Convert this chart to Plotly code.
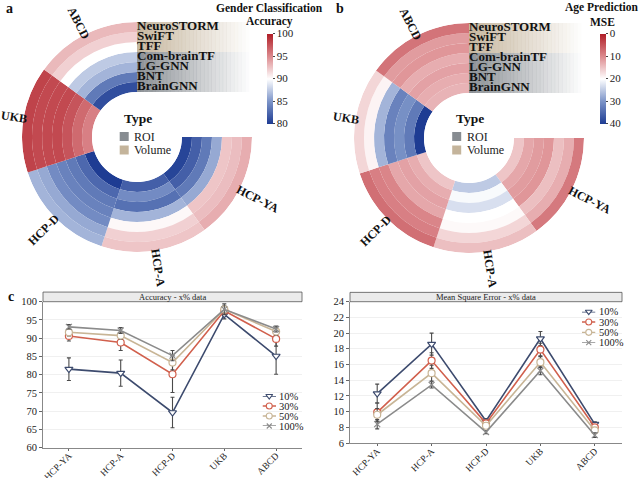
import math
import plotly.graph_objects as go

W, H = 640, 478
SERIF = "Liberation Serif, Times New Roman, serif"

# ---------------- data ----------------
datasets = ["HCP-YA", "HCP-A", "HCP-D", "UKB", "ABCD"]
# rings, inner -> outer
models = ["BrainGNN", "BNT", "LG-GNN", "Com-brainTF", "TFF", "SwiFT", "NeuroSTORM"]
model_type = ["ROI", "ROI", "ROI", "ROI", "Volume", "Volume", "Volume"]

# gender classification accuracy (%), per dataset
acc_braingnn = [80.5, 82.0, 78.5, 95.5, 81.0]
acc_bnt = [82.0, 84.5, 82.5, 96.5, 83.5]
acc_lggnn = [83.5, 83.0, 83.5, 97.5, 86.5]
acc_combraintf = [86.0, 86.5, 84.0, 98.0, 87.5]
acc_tff = [92.5, 90.3, 84.5, 98.0, 90.0]
acc_swift = [92.8, 92.0, 86.0, 98.0, 92.0]
acc_neurostorm = [93.5, 92.5, 86.5, 98.3, 93.0]

# age prediction MSE, per dataset
mse_braingnn = [15.0, 25.0, 15.0, 40.0, 13.5]
mse_bnt = [12.5, 20.5, 13.0, 33.0, 13.0]
mse_lggnn = [11.5, 23.0, 12.0, 30.5, 12.0]
mse_combraintf = [11.0, 20.0, 12.5, 32.0, 13.0]
mse_tff = [14.5, 19.5, 9.5, 27.0, 11.0]
mse_swift = [13.0, 16.5, 9.0, 19.0, 11.5]
mse_neurostorm = [8.4, 14.5, 7.5, 16.5, 8.0]

acc_rings = [acc_braingnn, acc_bnt, acc_lggnn, acc_combraintf, acc_tff, acc_swift, acc_neurostorm]
mse_rings = [mse_braingnn, mse_bnt, mse_lggnn, mse_combraintf, mse_tff, mse_swift, mse_neurostorm]

# panel c: NeuroSTORM with x% of data
fractions = ["10%", "30%", "50%", "100%"]
acc_10 = [81.5, 80.4, 69.6, 96.5, 85.1]
acc_30 = [90.6, 88.8, 80.1, 97.5, 89.8]
acc_50 = [91.6, 90.7, 83.3, 97.9, 91.8]
acc_100 = [93.1, 92.1, 85.2, 97.9, 92.5]
acc_err_10 = [3.1, 3.6, 4.2, 1.2, 5.0]
acc_err_30 = [1.4, 2.2, 5.0, 1.0, 2.0]
acc_err_50 = [1.0, 1.0, 2.0, 1.0, 1.0]
acc_err_100 = [0.6, 0.8, 1.4, 1.5, 0.8]

mse_10 = [12.3, 18.6, 8.8, 19.3, 8.4]
mse_30 = [9.9, 16.5, 8.5, 17.9, 8.0]
mse_50 = [9.6, 14.9, 8.2, 16.3, 7.6]
mse_100 = [8.4, 13.4, 7.4, 15.2, 7.0]
mse_err_10 = [1.2, 1.4, 0.3, 0.9, 0.3]
mse_err_30 = [1.2, 1.0, 0.3, 0.8, 0.3]
mse_err_50 = [0.8, 1.0, 0.3, 0.7, 0.3]
mse_err_100 = [0.6, 0.4, 0.2, 0.5, 0.3]

# ---------------- style ----------------
series_color = ["#3D4B6E", "#D1604D", "#C8B596", "#8B8B8B"]
series_symbol = ["triangle-down", "circle", "circle", "x-thin-open"]
type_color = {"ROI": "#878C91", "Volume": "#C4B49B"}
scale = [[0, "#1E3C93"], [0.25, "#7C94C8"], [0.5, "#FFFFFF"], [0.75, "#DC8A8E"], [1, "#B01E27"]]


def px(x, y):
    return x / W, 1 - y / H


fig = go.Figure()
annotations = []
shapes = []

# ---------------- circular panels a / b ----------------
RIN, ROUT = 45, 115
span = 270 / len(datasets)
thetas = [span * i + span / 2 for i in range(len(datasets))]

panels = [
    dict(sub="polar", cx=137, cy=137, rings=acc_rings, sign=1, cmin=80, cmax=100,
         ticks=[80, 85, 90, 95, 100], cbx=267, title=["Gender Classification", "Accuracy"], tx=269,
         legend_ax=("x5", "y5"), letter="a", lx=4),
    dict(sub="polar2", cx=469, cy=138, rings=mse_rings, sign=-1, cmin=-40, cmax=0,
         ticks=[0, 10, 20, 30, 40], cbx=600, title=["Age Prediction", "MSE"], tx=602,
         legend_ax=("x6", "y6"), letter="b", lx=334),
]

for p in panels:
    for i, vals in enumerate(p["rings"]):
        cb = None
        if i == 0:
            cbx, cby = px(p["cbx"], 78.5)
            cb = dict(x=cbx, xanchor="left", xpad=0, y=cby, yanchor="middle", ypad=0,
                      len=90, lenmode="pixels", thickness=6, outlinewidth=0,
                      tickvals=[p["sign"] * t for t in p["ticks"]], ticktext=[str(t) for t in p["ticks"]],
                      ticks="outside", ticklen=2, tickcolor="#444",
                      tickfont=dict(family=SERIF, size=11, color="#222"))
        fig.add_trace(go.Barpolar(
            r=[1] * len(datasets), theta=thetas, width=[span] * len(datasets),
            marker=dict(color=[p["sign"] * v for v in vals], colorscale=scale,
                        cmin=p["cmin"], cmax=p["cmax"], line=dict(width=0),
                        showscale=(i == 0), colorbar=cb),
            subplot=p["sub"], showlegend=False, hoverinfo="skip"))

    # model names along the gap edge
    fig.add_trace(go.Scatterpolar(
        r=[i + 0.5 for i in range(len(models))], theta=[270] * len(models), mode="text",
        text=["<b>%s</b>" % m for m in models], textposition="middle right",
        textfont=dict(family=SERIF, size=13, color="#111"),
        subplot=p["sub"], showlegend=False, hoverinfo="skip"))

    # fading type backgrounds behind the names
    unit = (ROUT - RIN) / len(models)
    nstrip, bgw = 30, 112
    for i, t in enumerate(model_type):
        y_top = p["cy"] - (RIN + unit * (i + 1))
        y_bot = p["cy"] - (RIN + unit * i)
        c = type_color[t]
        rgb = tuple(int(c[k:k + 2], 16) for k in (1, 3, 5))
        for k in range(nstrip):
            a = 0.95 * (1 - k / nstrip)
            x0, y0 = px(p["cx"] + bgw * k / nstrip, y_bot)
            x1, y1 = px(p["cx"] + bgw * (k + 1) / nstrip + 0.3, y_top)
            shapes.append(dict(type="rect", xref="paper", yref="paper", x0=x0, x1=x1, y0=y0, y1=y1,
                               fillcolor="rgba(%d,%d,%d,%.3f)" % (rgb + (a,)), line=dict(width=0),
                               layer="below"))

    # dataset labels, rotated along the radius, starting just outside the rings
    for d, th in zip(datasets, thetas):
        R = ROUT - 1 + 0.5 * len(d) * 7.2
        x, y = px(p["cx"] + R * math.cos(math.radians(th)), p["cy"] + R * math.sin(math.radians(th)))
        ang = th % 180
        if ang > 90:
            ang -= 180
        annotations.append(dict(x=x, y=y, xref="paper", yref="paper", text="<b>%s</b>" % d,
                                textangle=ang, showarrow=False, xanchor="center", yanchor="middle",
                                font=dict(family=SERIF, size=12, color="#111")))

    # colorbar title
    for j, line in enumerate(p["title"]):
        x, y = px(p["tx"], 7.5 + 14.3 * j)
        annotations.append(dict(x=x, y=y, xref="paper", yref="paper", text="<b>%s</b>" % line,
                                showarrow=False, xanchor="center", yanchor="middle",
                                font=dict(family=SERIF, size=11.5, color="#111")))

    # Type legend in the hole
    xa, ya = p["legend_ax"]
    types = ["ROI", "Volume"]
    fig.add_trace(go.Scatter(x=[0] * 2, y=list(range(2)), mode="markers",
                             marker=dict(symbol="square", size=9, color=[type_color[t] for t in types]),
                             xaxis=xa, yaxis=ya, showlegend=False, hoverinfo="skip", cliponaxis=False))
    for j, t in enumerate(types):
        annotations.append(dict(x=0, y=j, xref=xa, yref=ya, text=t, showarrow=False,
                                xanchor="left", yanchor="middle", xshift=8,
                                font=dict(family=SERIF, size=12, color="#222")))
    x, y = px(p["cx"] + 1, 118)
    annotations.append(dict(x=x, y=y, xref="paper", yref="paper", text="<b>Type</b>", showarrow=False,
                            xanchor="center", yanchor="middle",
                            font=dict(family=SERIF, size=13.5, color="#111")))

    x, y = px(p["lx"], 8)
    annotations.append(dict(x=x, y=y, xref="paper", yref="paper", text="<b>%s</b>" % p["letter"],
                            showarrow=False, xanchor="left", yanchor="middle",
                            font=dict(family=SERIF, size=14, color="#111")))

# ---------------- panel c ----------------
acc_series = [(acc_10, acc_err_10), (acc_30, acc_err_30), (acc_50, acc_err_50), (acc_100, acc_err_100)]
mse_series = [(mse_10, mse_err_10), (mse_30, mse_err_30), (mse_50, mse_err_50), (mse_100, mse_err_100)]

for (xa, ya, series, lax, lay) in [("x", "y", acc_series, "x3", "y3"), ("x2", "y2", mse_series, "x4", "y4")]:
    for k, (vals, err) in enumerate(series):
        open_sym = series_symbol[k] != "x-thin-open"
        fig.add_trace(go.Scatter(
            x=datasets, y=vals, mode="lines+markers",
            line=dict(color=series_color[k], width=1.6),
            marker=dict(symbol=series_symbol[k], size=7 if open_sym else 6,
                        color="white" if open_sym else series_color[k],
                        line=dict(color=series_color[k], width=1.2)),
            error_y=dict(type="data", array=err, visible=True, color="#4A4A4A", thickness=1.1, width=2),
            xaxis=xa, yaxis=ya, showlegend=False, hoverinfo="skip"))
        # legend key
        fig.add_trace(go.Scatter(
            x=[0, 0.5, 1], y=[k] * 3, mode="lines+markers",
            line=dict(color=series_color[k], width=1.4),
            marker=dict(symbol=series_symbol[k], size=6 if open_sym else 5, opacity=[0, 1, 0],
                        color="white" if open_sym else series_color[k],
                        line=dict(color=series_color[k], width=1.1)),
            xaxis=lax, yaxis=lay, showlegend=False, hoverinfo="skip", cliponaxis=False))
        annotations.append(dict(x=1, y=k, xref=lax, yref=lay, text=fractions[k], showarrow=False,
                                xanchor="left", yanchor="middle", xshift=1,
                                font=dict(family=SERIF, size=10.5, color="#222")))

# facet strips
for ax, title in [("x", "Accuracy - x&#37; data"), ("x2", "Mean Square Error - x&#37; data")]:
    ya = "y" if ax == "x" else "y2"
    shapes.append(dict(type="rect", xref=ax + " domain", yref=ya + " domain", x0=0, x1=1, y0=1.0, y1=1.066,
                       fillcolor="#EBEBEB", line=dict(color="#555", width=0.8)))
    annotations.append(dict(x=0.5, y=1.033, xref=ax + " domain", yref=ya + " domain", text=title,
                            showarrow=False, xanchor="center", yanchor="middle",
                            font=dict(family=SERIF, size=8.5, color="#222")))

x, y = px(6, 296)
annotations.append(dict(x=x, y=y, xref="paper", yref="paper", text="<b>c</b>", showarrow=False,
                        xanchor="left", yanchor="middle", font=dict(family=SERIF, size=14, color="#111")))

polar_common = dict(
    hole=RIN / ROUT, bgcolor="rgba(0,0,0,0)", bargap=0, barmode="stack",
    radialaxis=dict(visible=False, range=[0, len(models)]),
    angularaxis=dict(visible=False, rotation=0, direction="clockwise"),
)
xd1, yd1 = px(22, 252), px(252, 22)
xd2, yd2 = px(354, 253), px(584, 23)

axis_tick = dict(family=SERIF, size=10.5, color="#222")
xcommon = dict(range=[-0.5, 4.5], showline=True, linecolor="#888", linewidth=1, ticks="outside",
               ticklen=2, tickcolor="#666", tickangle=-45, tickfont=dict(family=SERIF, size=9.5, color="#222"),
               ticklabelstandoff=-4, showgrid=False, automargin=False)
ycommon = dict(showline=True, linecolor="#888", linewidth=1, ticks="outside", ticklen=3, tickcolor="#666",
               tickfont=axis_tick, showgrid=True, gridcolor="#F0F0F0", gridwidth=1, zeroline=False,
               automargin=False)
hidden = dict(visible=False, fixedrange=True, automargin=False)

fig.update_layout(
    width=W, height=H, margin=dict(l=0, r=0, t=0, b=0, autoexpand=False),
    paper_bgcolor="white", plot_bgcolor="rgba(0,0,0,0)", showlegend=False,
    polar=dict(domain=dict(x=[xd1[0], yd1[0]], y=[xd1[1], yd1[1]]), **polar_common),
    polar2=dict(domain=dict(x=[xd2[0], yd2[0]], y=[xd2[1], yd2[1]]), **polar_common),
    xaxis=dict(domain=[43 / W, 302 / W], anchor="y", **xcommon),
    yaxis=dict(domain=[1 - 447.5 / H, 1 - 301.7 / H], anchor="x", range=[60, 100], dtick=5, **ycommon),
    xaxis2=dict(domain=[350 / W, 622 / W], anchor="y2", **xcommon),
    yaxis2=dict(domain=[1 - 443 / H, 1 - 301.7 / H], anchor="x2", range=[6, 24], dtick=2, **ycommon),
    # legend keys for panel c
    xaxis3=dict(domain=[262.5 / W, 276 / W], range=[0, 1], anchor="y3", **hidden),
    yaxis3=dict(domain=[1 - 426 / H, 1 - 396 / H], range=[3, 0], anchor="x3", **hidden),
    xaxis4=dict(domain=[582 / W, 595.5 / W], range=[0, 1], anchor="y4", **hidden),
    yaxis4=dict(domain=[1 - 342.7 / H, 1 - 311.7 / H], range=[3, 0], anchor="x4", **hidden),
    # Type legends
    xaxis5=dict(domain=[120 / W, 128.4 / W], range=[-1, 1], anchor="y5", **hidden),
    yaxis5=dict(domain=[1 - 150 / H, 1 - 136.5 / H], range=[1, 0], anchor="x5", **hidden),
    xaxis6=dict(domain=[452.5 / W, 460.9 / W], range=[-1, 1], anchor="y6", **hidden),
    yaxis6=dict(domain=[1 - 150 / H, 1 - 136.5 / H], range=[1, 0], anchor="x6", **hidden),
    annotations=annotations, shapes=shapes,
)

# the page body has a default 8px margin; drop it so the figure sits at the window origin
fig.write_html("out.html", config={"displayModeBar": False},
               post_script="document.body.style.margin='0';")
